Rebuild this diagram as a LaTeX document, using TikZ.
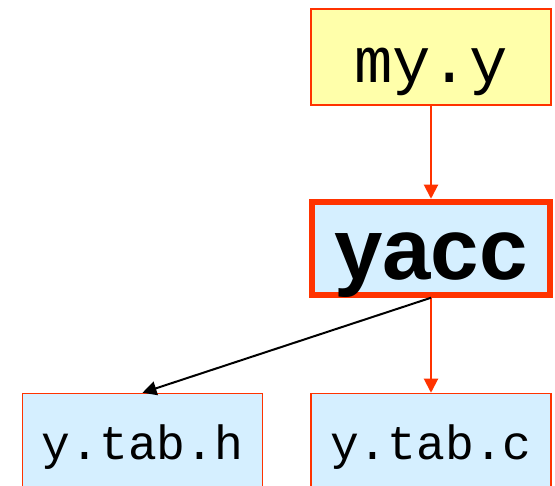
\documentclass[tikz,border=0pt]{standalone}
\usepackage{fontspec}
\usetikzlibrary{arrows.meta,positioning}
\newfontfamily\codefont{Liberation Mono}
\newfontfamily\toolfont{Liberation Sans}
\definecolor{boxred}{RGB}{255,51,0}
\definecolor{srcyellow}{RGB}{255,255,170}
\definecolor{genblue}{RGB}{213,239,255}
\tikzstyle{line} = [draw, line width=2pt, -{Triangle[length=14pt,width=14pt]}]
\tikzstyle{srcfile} = [draw=boxred, fill=srcyellow, line width=1.5pt, inner sep=0pt,
  minimum width=240pt, text height=74pt, text depth=22pt,
  font={\codefont\fontsize{64}{64}\selectfont}]
\tikzstyle{genfile} = [draw=boxred, fill=genblue, line width=1.5pt, inner sep=0pt,
  minimum width=240pt, text height=66pt, text depth=30pt,
  font={\codefont\fontsize{48}{48}\selectfont}]
\tikzstyle{tool} = [draw=boxred, fill=genblue, line width=6pt, inner sep=0pt,
  minimum width=238pt, text height=78pt, text depth=15pt,
  font={\toolfont\bfseries\fontsize{87}{87}\selectfont}]

\begin{document}
\begin{tikzpicture}[x=1pt,y=-1pt]
        \path [use as bounding box] (0,0) rectangle (555,486);
        \clip (0,0) rectangle (555,486);
        \node [srcfile] (myy) at (431,57) {my.y};
        \node [tool, below = 93pt of myy] (yacc) {yacc};
        \node [genfile, below = 95pt of yacc] (ytabc) {y.tab.c};
        \node [genfile, left = 47pt of ytabc] (ytabh) {y.tab.h};
        \draw [line, color=boxred] (myy) -- (yacc);
        \draw [line, color=boxred] (yacc.south) -- (ytabc.north);
        \draw [line] (yacc.south) -- (ytabh.north);
    \end{tikzpicture}
\end{document}
